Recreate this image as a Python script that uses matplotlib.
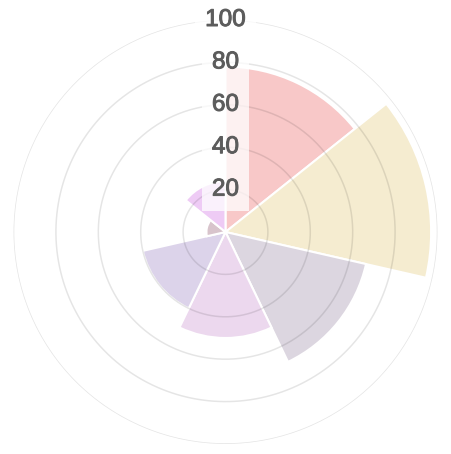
import matplotlib
matplotlib.use("AGG")
import matplotlib.pyplot as plt
import matplotlib.patheffects as pe
import numpy as np

# values, clockwise from 12 o'clock
values = [78, 97, 68, 50, 40, 9, 24]
colors = ['#f8c8c8', '#f5ecd0', '#dcd6e0', '#ecd8ee', '#dcd3ea', '#d8c4cc', '#eecbf5']
ring_values = [20, 40, 60, 80, 100]
ring_labels = ['20', '40', '60', '80', '100']

fig = plt.figure(figsize=(4.52, 4.54), dpi=100)
ax = fig.add_axes([0.0299, 0.022, 0.938, 0.934], projection='polar')
ax.set_theta_zero_location('N')
ax.set_theta_direction(-1)

n = len(values)
width = 2 * np.pi / n
thetas = np.arange(n) * width
ax.bar(thetas, values, width=width, align='edge', color=colors,
       edgecolor='white', linewidth=1.5, zorder=2)

# ring grid drawn on top of the wedges
t = np.linspace(0, 2 * np.pi, 400)
for r in ring_values:
    ax.plot(t, np.full_like(t, r), color='black', alpha=0.1, lw=1.1, zorder=3)

for r, lab in zip(ring_values, ring_labels):
    ax.text(0, r, lab, ha='center', va='center', fontsize=17.5,
            family='Liberation Sans', color='#5c5c5c', zorder=5,
            path_effects=[pe.withStroke(linewidth=0.7, foreground='#5c5c5c')],
            bbox=dict(boxstyle='square,pad=0.42', fc='white', ec='none', alpha=0.75))

ax.set_ylim(0, 100)
ax.set_xticks([])
ax.set_yticks([])
ax.grid(False)
ax.spines['polar'].set_visible(False)
ax.set_facecolor('white')

plt.savefig('out.png', dpi=100)
